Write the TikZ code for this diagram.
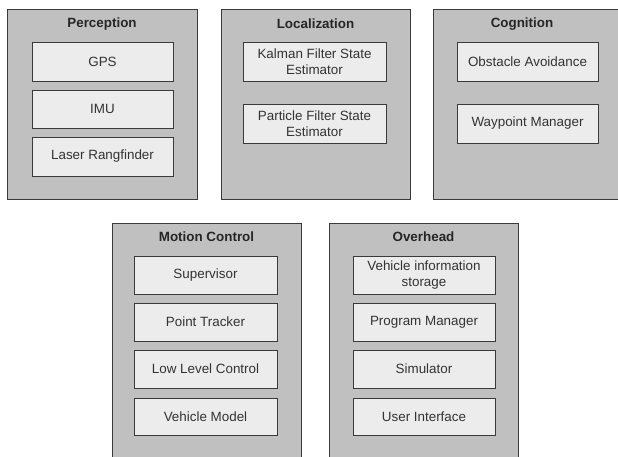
\documentclass[tikz,border=0pt]{standalone}
\usepackage{fontspec}
\setmainfont{Liberation Sans}
\definecolor{outerfill}{HTML}{C0C0C0}
\definecolor{innerfill}{HTML}{ECECEC}
\definecolor{edge}{HTML}{3A3A3A}
\begin{document}
\begin{tikzpicture}[x=1pt,y=-1pt,
  group/.style={draw=edge,fill=outerfill,line width=0.9pt,rectangle,inner sep=0pt},
  title/.style={font=\fontsize{13.4}{16}\selectfont\bfseries,text=black!85,inner sep=0pt},
  item/.style={draw=edge,fill=innerfill,line width=0.9pt,rectangle,inner sep=0pt,
    align=center,font=\fontsize{13.4}{16.5}\selectfont,text=black!80}]
\clip (0,0) rectangle (618,456);
\fill[white] (0,0) rectangle (618,456);
% groups
\path[group] (7,9) rectangle (197,199) node[coordinate] (perc) {};
\path[group] (221,9) rectangle (410,199) node[coordinate] (loc) {};
\path[group] (433,9) rectangle (625,199) node[coordinate] (cog) {};
\path[group] (112,223) rectangle (301,470) node[coordinate] (mot) {};
\path[group] (329,223) rectangle (518,470) node[coordinate] (ovh) {};
% titles
\node[title] (tperc) at (102,24) {Perception};
\node[title] (tloc) at (315.5,24) {Localization};
\node[title] (tcog) at (522,24) {Cognition};
\node[title] (tmot) at (206.5,237) {Motion Control};
\node[title] (tovh) at (423.5,237) {Overhead};
% Perception items
\node[item,minimum width=141,minimum height=39] (gps) at (102.5,61.5) {GPS};
\node[item,minimum width=141,minimum height=38] (imu) at (102.5,109) {IMU};
\node[item,minimum width=141,minimum height=39] (laser) at (102.5,156.5) {Laser Rangfinder};
% Localization items
\node[item,minimum width=143,minimum height=39] (kal) at (314.5,61.5) {Kalman Filter State\\Estimator};
\node[item,minimum width=143,minimum height=39] (par) at (314.5,123.5) {Particle Filter State\\Estimator};
% Cognition items
\node[item,minimum width=141,minimum height=39] (obs) at (527.5,61.5) {Obstacle Avoidance};
\node[item,minimum width=141,minimum height=39] (way) at (527.5,123.5) {Waypoint Manager};
% Motion Control items
\node[item,minimum width=143,minimum height=38] (sup) at (205.5,275) {Supervisor};
\node[item,minimum width=143,minimum height=38] (pt) at (205.5,322) {Point Tracker};
\node[item,minimum width=143,minimum height=38] (llc) at (205.5,369) {Low Level Control};
\node[item,minimum width=143,minimum height=37] (vm) at (205.5,416.5) {Vehicle Model};
% Overhead items
\node[item,minimum width=142,minimum height=38] (vis) at (424,275) {Vehicle information\\storage};
\node[item,minimum width=142,minimum height=38] (pm) at (424,322) {Program Manager};
\node[item,minimum width=142,minimum height=38] (sim) at (424,369) {Simulator};
\node[item,minimum width=142,minimum height=37] (ui) at (424,416.5) {User Interface};
\end{tikzpicture}
\end{document}
